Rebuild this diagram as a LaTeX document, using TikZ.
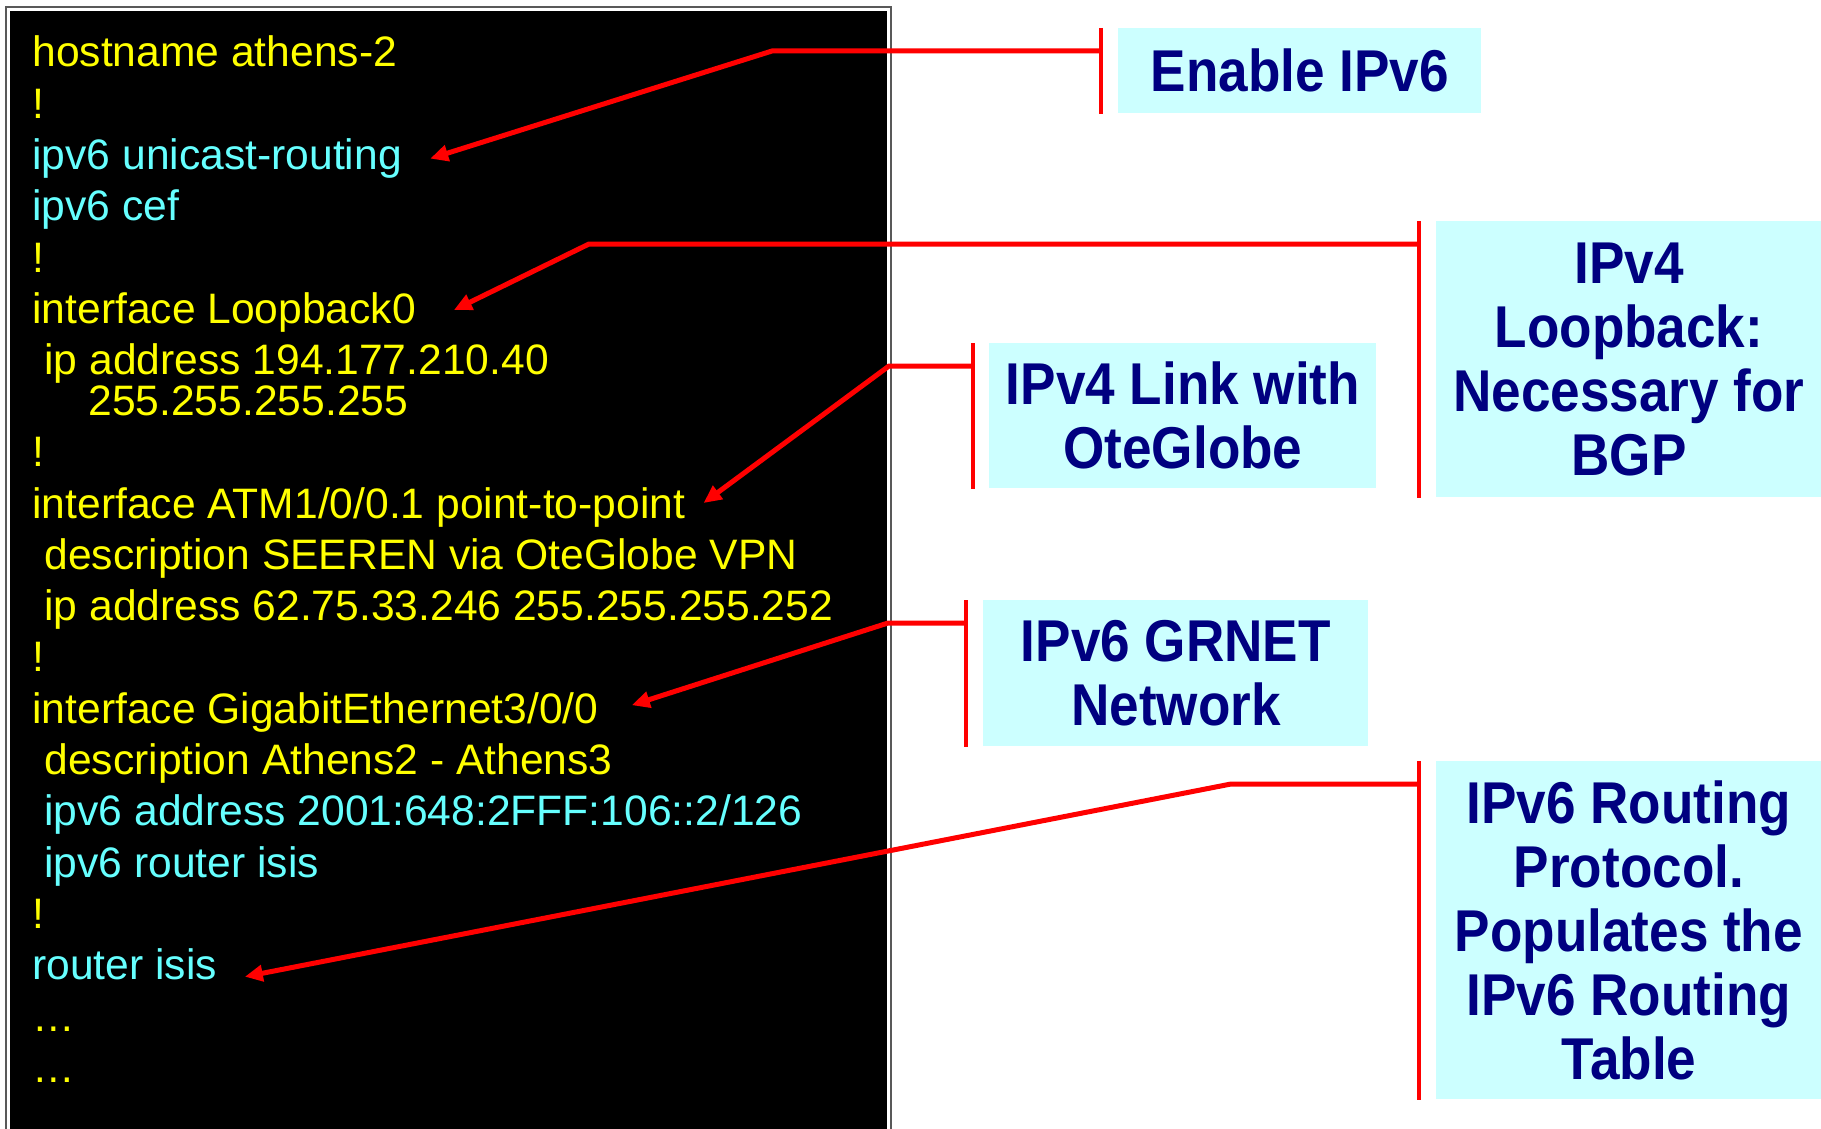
\documentclass[tikz,border=0pt]{standalone}
\usepackage{fontspec}
\setmainfont{Liberation Sans}
\newfontfamily\notefont[FakeStretch=0.9]{Liberation Sans}
\usetikzlibrary{arrows.meta}
\definecolor{cYel}{RGB}{255,255,0}
\definecolor{cCyan}{RGB}{102,255,255}
\definecolor{cNote}{RGB}{204,255,255}
\definecolor{cNavy}{RGB}{0,0,128}
\definecolor{cRed}{RGB}{255,0,0}

\begin{document}
\begin{tikzpicture}[x=0.5pt,y=-0.5pt,
  code/.style={anchor=base west,inner sep=0,text=cYel,font=\fontsize{21.3}{25}\selectfont},
  v6/.style={code,text=cCyan},
  note/.style={anchor=north west,inner sep=0,fill=cNote,text=cNavy,align=center,
    font=\notefont\bfseries\fontsize{29.5}{32}\selectfont},
  notebar/.style={cRed,line width=2.3pt},
  leader/.style={cRed,line width=2.5pt,-{Triangle[length=9pt,width=8pt]}}]
\useasboundingbox (0,0) rectangle (1821,1129);
% router config listing
\draw[gray!70!black,line width=1pt] (6,7.5) rectangle (891,1140);
\fill[black] (10,11.5) rectangle (887,1140);
\node[code] (l0) at (32,67) {hostname athens-2};
\node[code] (l1) at (32,118.3) {!};
\node[v6] (l2) at (32,169.6) {ipv6 unicast-routing};
\node[v6] (l3) at (32,220.9) {ipv6 cef};
\node[code] (l4) at (32,272.2) {!};
\node[code] (l5) at (32,323.5) {interface Loopback0};
\node[code] (l6) at (44,374.8) {ip address 194.177.210.40};
\node[code] (l7) at (88,415.4) {255.255.255.255};
\node[code] (l8) at (32,466.7) {!};
\node[code] (l9) at (32,518) {interface ATM1/0/0.1 point-to-point};
\node[code] (l10) at (44,569.3) {description SEEREN via OteGlobe VPN};
\node[code] (l11) at (44,620.6) {ip address 62.75.33.246 255.255.255.252};
\node[code] (l12) at (32,671.9) {!};
\node[code] (l13) at (32,723.2) {interface GigabitEthernet3/0/0};
\node[code] (l14) at (44,774.5) {description Athens2 - Athens3};
\node[v6] (l15) at (44,825.8) {ipv6 address 2001:648:2FFF:106::2/126};
\node[v6] (l16) at (44,877.1) {ipv6 router isis};
\node[code] (l17) at (32,928.4) {!};
\node[v6] (l18) at (32,979.7) {router isis};
\node[code] (l19) at (32,1031) {…};
\node[code] (l20) at (32,1082.3) {…};
% callouts
\node[note,minimum width=181.5pt,minimum height=42.5pt] (eb) at (1118,28) {Enable IPv6};
\node[note,minimum width=192.5pt,minimum height=138pt] (lb) at (1436,221) {IPv4\\Loopback:\\Necessary for\\BGP};
\node[note,minimum width=193.5pt,minimum height=72.5pt] (kb) at (989,343) {IPv4 Link with\\OteGlobe};
\node[note,minimum width=192.5pt,minimum height=73pt] (gb) at (983,600) {IPv6 GRNET\\Network};
\node[note,minimum width=192.5pt,minimum height=169pt] (rb) at (1436,761) {IPv6 Routing\\Protocol.\\Populates the\\IPv6 Routing\\Table};
\coordinate (k1) at (772,51);
\coordinate (k2) at (589,244);
\coordinate (k3) at (889,366);
\coordinate (k4) at (888,623);
\coordinate (k5) at (1231,784);
\draw[notebar] ([xshift=-8.5pt]eb.north west) -- ([xshift=-8.5pt]eb.south west);
\draw[notebar] ([xshift=-8.5pt]lb.north west) -- ([xshift=-8.5pt]lb.south west);
\draw[notebar] ([xshift=-8pt]kb.north west) -- ([xshift=-8pt]kb.south west);
\draw[notebar] ([xshift=-8.5pt]gb.north west) -- ([xshift=-8.5pt]gb.south west);
\draw[notebar] ([xshift=-8.5pt]rb.north west) -- ([xshift=-8.5pt]rb.south west);
\draw[leader] ([xshift=-8.5pt,yshift=-11.5pt]eb.north west) -- (k1) -- ([xshift=14pt,yshift=5.5pt]l2.base east);
\draw[leader] ([xshift=-8.5pt,yshift=-11.5pt]lb.north west) -- (k2) -- ([xshift=18.7pt,yshift=6.7pt]l5.base east);
\draw[leader] ([xshift=-8pt,yshift=-11.5pt]kb.north west) -- (k3) -- ([xshift=9pt,yshift=7.5pt]l9.base east);
\draw[leader] ([xshift=-8.5pt,yshift=-11.5pt]gb.north west) -- (k4) -- ([xshift=16.5pt,yshift=9pt]l13.base east);
\draw[leader] ([xshift=-8.5pt,yshift=-11.5pt]rb.north west) -- (k5) -- ([xshift=13.7pt,yshift=1.5pt]l18.base east);
\end{tikzpicture}
\end{document}
